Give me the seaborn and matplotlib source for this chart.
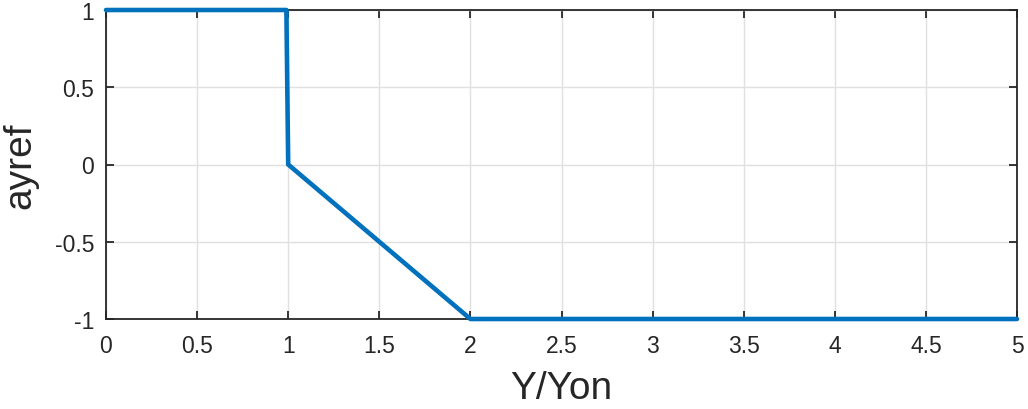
import matplotlib
matplotlib.use("Agg")
import matplotlib.pyplot as plt
import seaborn as sns
import pandas as pd

# Reference acceleration profile versus normalised position
y_ratio = [0.0, 0.99, 1.0, 2.0, 5.0]
ayref = [1.0, 1.0, 0.0, -1.0, -1.0]
x_ticks = [0, 0.5, 1, 1.5, 2, 2.5, 3, 3.5, 4, 4.5, 5]
x_tick_labels = ["0", "0.5", "1", "1.5", "2", "2.5", "3", "3.5", "4", "4.5", "5"]
y_ticks = [-1, -0.5, 0, 0.5, 1]
y_tick_labels = ["-1", "-0.5", "0", "0.5", "1"]

sns.set_theme(style="white")
plt.rcParams["font.family"] = ["Liberation Sans", "DejaVu Sans"]

df = pd.DataFrame({"Y/Yon": y_ratio, "ayref": ayref})

fig = plt.figure(figsize=(10.28, 4.10), dpi=100)
ax = fig.add_axes([106 / 1028, 1 - 320 / 410, 911 / 1028, 309 / 410])

sns.lineplot(data=df, x="Y/Yon", y="ayref", ax=ax, color="#0072BD",
             linewidth=3.3, sort=False, estimator=None, zorder=3, clip_on=False)

ax.set_xlim(0, 5)
ax.set_ylim(-1, 1)
ax.set_xticks(x_ticks)
ax.set_xticklabels(x_tick_labels)
ax.set_yticks(y_ticks)
ax.set_yticklabels(y_tick_labels)

ax.grid(True, color="#e0e0e0", linewidth=1.0)
ax.set_axisbelow(True)
for side in ["top", "bottom", "left", "right"]:
    ax.spines[side].set_visible(True)
    ax.spines[side].set_color("#262626")
    ax.spines[side].set_linewidth(1.3)

ax.tick_params(axis="both", direction="in", length=6, width=1.3,
               colors="#262626", labelsize=16.5, top=True, right=True,
               labeltop=False, labelright=False,
               bottom=True, left=True)
ax.tick_params(axis="x", pad=11)
ax.tick_params(axis="y", pad=8.5)
for lbl in ax.get_xticklabels() + ax.get_yticklabels():
    lbl.set_color("#262626")

ax.set_xlabel("Y/Yon", fontsize=28, color="#262626", labelpad=9)
ax.set_ylabel("ayref", fontsize=28, color="#262626", labelpad=12)

fig.savefig("out.png", dpi=100)
